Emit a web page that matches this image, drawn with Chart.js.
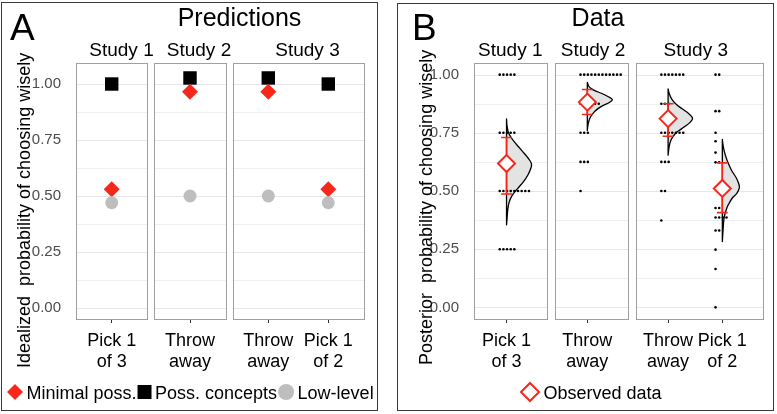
<!DOCTYPE html>
<html><head><meta charset="utf-8">
<script src="https://cdn.jsdelivr.net/npm/chart.js@4.4.1/dist/chart.umd.min.js"></script>
<style>
html,body{margin:0;padding:0;background:#fff;}
body{width:777px;height:414px;position:relative;overflow:hidden;}
.box{position:absolute;border:1.5px solid #3a3a3a;box-sizing:border-box;}
canvas{position:absolute;top:0;}
</style></head><body>
<div class="box" style="left:1px;top:2px;width:377px;height:409px"></div>
<div class="box" style="left:397px;top:3px;width:377px;height:408px"></div>
<canvas id="cA" width="390" height="414" style="left:0;width:390px;height:414px"></canvas>
<canvas id="cB" width="387" height="414" style="left:390px;width:387px;height:414px"></canvas>
<script>
// ---------------- data ----------------
const categories = [['Pick 1','of 3'],['Throw','away'],['Throw','away'],['Pick 1','of 2']];
const studies = ['Study 1','Study 2','Study 3'];
const categoryStudy = [0,1,2,2];
const yTickValues = [0,0.25,0.5,0.75,1];
const yTickLabels = ['0.00','0.25','0.50','0.75','1.00'];
const yMinorValues = [0.125,0.375,0.625,0.875];

// Panel A: predictions
const predMinimal  = [0.53, 0.965, 0.965, 0.53];
const predConcepts = [1.00, 1.027, 1.027, 1.00];
const predLowLevel = [0.47, 0.50, 0.50, 0.47];

// Panel B: observed data
const obsMean  = [0.618, 0.882, 0.811, 0.511];
const obsLower = [0.487, 0.829, 0.735, 0.407];
const obsUpper = [0.730, 0.936, 0.875, 0.621];

// individual responses: [value, count]
const dotsPick1of3   = [[1.00,5],[0.75,5],[0.50,9],[0.25,5]];
const dotsThrowAway2 = [[1.00,12],[0.875,6],[0.75,3],[0.625,3],[0.50,1]];
const dotsThrowAway3 = [[1.00,7],[0.875,3],[0.75,7],[0.625,3],[0.50,2],[0.373,1]];
const dotsPick1of2   = [[1.00,2],[0.843,2],[0.75,1],[0.714,1],[0.665,1],[0.623,2],[0.427,2],[0.386,4],[0.33,2],[0.248,1],[0.165,1],[0.00,1]];

// posterior densities (relative)
const violinYPick1of3    = [0.81,0.78,0.75,0.73,0.71,0.69,0.67,0.65,0.63,0.615,0.60,0.57,0.54,0.51,0.48,0.45,0.42,0.38,0.355];
const violinDensPick1of3 = [0,0.02,0.08,0.18,0.32,0.48,0.64,0.80,0.94,1.00,0.98,0.86,0.68,0.44,0.22,0.10,0.05,0.02,0];
const violinYThrow2      = [0.967,0.95,0.94,0.93,0.92,0.905,0.893,0.88,0.868,0.855,0.84,0.82,0.80,0.78,0.76];
const violinDensThrow2   = [0,0.06,0.16,0.32,0.56,0.84,1.00,0.88,0.64,0.44,0.28,0.14,0.06,0.02,0];
const violinYThrow3      = [0.939,0.92,0.896,0.875,0.853,0.833,0.813,0.795,0.775,0.76,0.746,0.72,0.69,0.654];
const violinDensThrow3   = [0,0.04,0.14,0.30,0.56,0.82,0.98,0.88,0.64,0.44,0.28,0.12,0.04,0];
const violinYPick1of2    = [0.722,0.69,0.654,0.624,0.59,0.556,0.53,0.513,0.49,0.47,0.445,0.427,0.39,0.35,0.283];
const violinDensPick1of2 = [0,0.04,0.12,0.22,0.36,0.56,0.66,0.68,0.58,0.40,0.26,0.18,0.08,0.04,0];

// ---------------- styles / layout ----------------
const FONT = '"Liberation Sans", Arial, Helvetica, sans-serif';
const RED = '#f5281b';
Chart.defaults.font.family = FONT;

function facetLayout(groups, expL, expR, gap){
  const centers=[], facets=[]; let pos=0;
  const ids=[...new Set(groups)];
  ids.forEach(g=>{
    const idx=groups.map((s,i)=>s===g?i:-1).filter(i=>i>=0);
    const start=pos;
    idx.forEach((ci,k)=>{centers[ci]=start+expL+k;});
    const end=start+expL+(idx.length-1)+expR;
    facets.push([start,end]); pos=end+gap;
  });
  return {centers, facets, max:pos-gap};
}
const LA = facetLayout(categoryStudy, 0.595, 0.595, 0.115);
const LB = facetLayout(categoryStudy, 0.6, 0.75, 0.14);

function drawMarker(ctx, style, r, x, y, fill, stroke, lw){
  ctx.save();
  ctx.fillStyle=fill; ctx.strokeStyle=stroke||fill; ctx.lineWidth=lw||0;
  Chart.helpers.drawPoint(ctx, {pointStyle:style, radius:r, rotation:0, borderWidth:lw||0}, x, y);
  ctx.restore();
}
function txt(ctx, s, x, y, size, color, align){
  ctx.font = size+'px '+FONT; ctx.fillStyle=color; ctx.textAlign=align||'left';
  ctx.textBaseline='alphabetic'; ctx.fillText(s,x,y);
}

function panelPlugin(cfg){
  return {
    id:'panel'+cfg.letter,
    beforeDatasetsDraw(chart){
      const {ctx, chartArea:ca, scales:{x,y}} = chart;
      ctx.save();
      ctx.lineWidth=1;
      cfg.layout.facets.forEach(f=>{
        const x0=x.getPixelForValue(f[0]), x1=x.getPixelForValue(f[1]);
        const hl=(v,col)=>{const py=Math.round(y.getPixelForValue(v))+0.5; ctx.strokeStyle=col; ctx.beginPath(); ctx.moveTo(x0,py); ctx.lineTo(x1,py); ctx.stroke();};
        yMinorValues.forEach(v=>hl(v,'#f0f0f0'));
        yTickValues.forEach(v=>hl(v,'#e6e6e6'));
      });
      if(cfg.violins){
        cfg.violins.forEach((vl,i)=>{
          const c=cfg.layout.centers[i];
          const pts=vl.y.map((v,j)=>[x.getPixelForValue(c+vl.d[j]*cfg.violinScale), y.getPixelForValue(v)]);
          ctx.beginPath(); ctx.moveTo(pts[0][0],pts[0][1]);
          for(let k=0;k<pts.length-1;k++){
            const p0=pts[k-1]||pts[k], p1=pts[k], p2=pts[k+1], p3=pts[k+2]||pts[k+1];
            ctx.bezierCurveTo(p1[0]+(p2[0]-p0[0])/6, p1[1]+(p2[1]-p0[1])/6, p2[0]-(p3[0]-p1[0])/6, p2[1]-(p3[1]-p1[1])/6, p2[0], p2[1]);
          }
          ctx.closePath();
          ctx.fillStyle='#e3e3e3'; ctx.fill();
          ctx.strokeStyle='#000'; ctx.lineWidth=1.3; ctx.lineJoin='round'; ctx.stroke();
        });
      }
      ctx.restore();
    },
    afterDatasetsDraw(chart){
      const {ctx, chartArea:ca, scales:{x}} = chart;
      ctx.save(); ctx.strokeStyle='#a0a0a0'; ctx.lineWidth=1;
      cfg.layout.facets.forEach(f=>{
        const x0=Math.round(x.getPixelForValue(f[0])), x1=Math.round(x.getPixelForValue(f[1]));
        ctx.strokeRect(x0+0.5, Math.round(ca.top)+0.5, x1-x0, Math.round(ca.bottom)-Math.round(ca.top));
      });
      ctx.restore();
    },
    afterDraw(chart){
      const ctx=chart.ctx; const t=cfg.text;
      ctx.save();
      txt(ctx, cfg.letter, t.letterX, 40, 37, '#000');
      txt(ctx, cfg.title, t.titleX, 26, 25, '#000', 'center');
      studies.forEach((s,i)=>txt(ctx, s, t.stripX[i], 55.5, 19, '#000', 'center'));
      ctx.save(); ctx.translate(t.yTitleX, t.yTitleY); ctx.rotate(-Math.PI/2);
      txt(ctx, cfg.yTitle, 0, 0, 18, '#000', 'left'); ctx.restore();
      // legend
      let lx=t.legendX; const ly=392;
      cfg.legend.forEach(item=>{
        drawMarker(ctx, item.style, item.r, lx+item.w/2, ly, item.fill, item.stroke, item.lw);
        lx += item.w + 3.5;
        txt(ctx, item.label, lx, 399, 18, '#000');
        ctx.font='18px '+FONT;
        lx += ctx.measureText(item.label).width + 1;
      });
      ctx.restore();
    }
  };
}

function makeScales(L, yMin, yMax, yWidth){
  return {
    x:{type:'linear', min:0, max:L.max,
       afterFit:s=>{s.height=95;},
       afterBuildTicks:s=>{s.ticks=L.centers.map(v=>({value:v}));},
       ticks:{callback:(v,i)=>categories[i], font:{size:18, lineHeight:1.2}, color:'#000', padding:7, autoSkip:false, maxRotation:0, minRotation:0},
       grid:{display:true, drawOnChartArea:false, drawTicks:true, tickLength:4, color:'#333', lineWidth:1},
       border:{display:false}},
    y:{type:'linear', min:yMin, max:yMax,
       afterFit:s=>{s.width=yWidth;},
       afterBuildTicks:s=>{s.ticks=yTickValues.map(v=>({value:v}));},
       ticks:{callback:(v,i)=>yTickLabels[i], font:{size:15}, color:'#4d4d4d', padding:7},
       grid:{display:false}, border:{display:false}}
  };
}

// ---------------- Panel A ----------------
const toPts=(arr,L)=>arr.map((v,i)=>({x:L.centers[i], y:v}));
new Chart(document.getElementById('cA'), {
  type:'scatter',
  data:{datasets:[
    {label:'Minimal poss.', data:toPts(predMinimal,LA), pointStyle:'rectRot', pointRadius:8, backgroundColor:RED, borderWidth:0, order:2},
    {label:'Poss. concepts', data:toPts(predConcepts,LA), pointStyle:'rect', pointRadius:9.5, backgroundColor:'#000', borderWidth:0, order:3},
    {label:'Low-level', data:toPts(predLowLevel,LA), pointStyle:'circle', pointRadius:6.5, backgroundColor:'#bebebe', borderWidth:0, order:1}
  ]},
  options:{
    responsive:false, animation:false, devicePixelRatio:1, events:[],
    layout:{padding:{left:0,right:26,top:63,bottom:0}},
    plugins:{legend:{display:false}, tooltip:{enabled:false}},
    scales:makeScales(LA, -0.0491, 1.0938, 76)
  },
  plugins:[panelPlugin({
    letter:'A', title:'Predictions', yTitle:'Idealized  probability of choosing wisely', layout:LA,
    text:{letterX:10, titleX:239.5, stripX:[121.5,199,307.5], yTitleX:30, yTitleY:368, legendX:7},
    legend:[
      {label:'Minimal poss.', style:'rectRot', r:8, w:16, fill:RED},
      {label:'Poss. concepts', style:'rect', r:9.9, w:14, fill:'#000'},
      {label:'Low-level', style:'circle', r:8, w:16, fill:'#bebebe'}
    ]
  })]
});

// ---------------- Panel B ----------------
const dotStart=-0.125, dotStep=0.0673;
const dotGroups=[dotsPick1of3, dotsThrowAway2, dotsThrowAway3, dotsPick1of2];
const dotPts=[];
dotGroups.forEach((g,i)=>g.forEach(([v,n])=>{for(let k=0;k<n;k++) dotPts.push({x:LB.centers[i]+dotStart+k*dotStep, y:v});}));
const capHalf=0.1;
const errPts=[];
obsMean.forEach((m,i)=>{
  const c=LB.centers[i], lo=obsLower[i], hi=obsUpper[i];
  errPts.push({x:c-capHalf,y:hi},{x:c+capHalf,y:hi},{x:c,y:null},
              {x:c,y:hi},{x:c,y:lo},{x:c,y:null},
              {x:c-capHalf,y:lo},{x:c+capHalf,y:lo},{x:c,y:null});
});
new Chart(document.getElementById('cB'), {
  type:'scatter',
  data:{datasets:[
    {label:'Observed data', data:toPts(obsMean,LB), pointStyle:'rectRot', pointRadius:8.5, backgroundColor:'#fff', borderColor:RED, borderWidth:2, order:1},
    {label:'95% interval', data:errPts, showLine:true, spanGaps:false, pointRadius:0, borderColor:RED, borderWidth:1.6, order:2},
    {label:'Participants', data:dotPts, pointStyle:'circle', pointRadius:1.3, backgroundColor:'#000', borderWidth:0, order:3}
  ]},
  options:{
    responsive:false, animation:false, devicePixelRatio:1, events:[],
    layout:{padding:{left:0,right:14,top:63,bottom:0}},
    plugins:{legend:{display:false}, tooltip:{enabled:false}},
    scales:makeScales(LB, -0.05, 1.05, 84)
  },
  plugins:[panelPlugin({
    letter:'B', title:'Data', yTitle:'Posterior  probability of choosing wisely', layout:LB,
    violinScale:0.461,
    violins:[
      {y:violinYPick1of3, d:violinDensPick1of3},
      {y:violinYThrow2, d:violinDensThrow2},
      {y:violinYThrow3, d:violinDensThrow3},
      {y:violinYPick1of2, d:violinDensPick1of2}
    ],
    text:{letterX:22, titleX:208, stripX:[120.3,203,305.8], yTitleX:41.7, yTitleY:365, legendX:130},
    legend:[{label:'Observed data', style:'rectRot', r:9, w:20, fill:'#fff', stroke:RED, lw:2}]
  })]
});
</script>
</body></html>
